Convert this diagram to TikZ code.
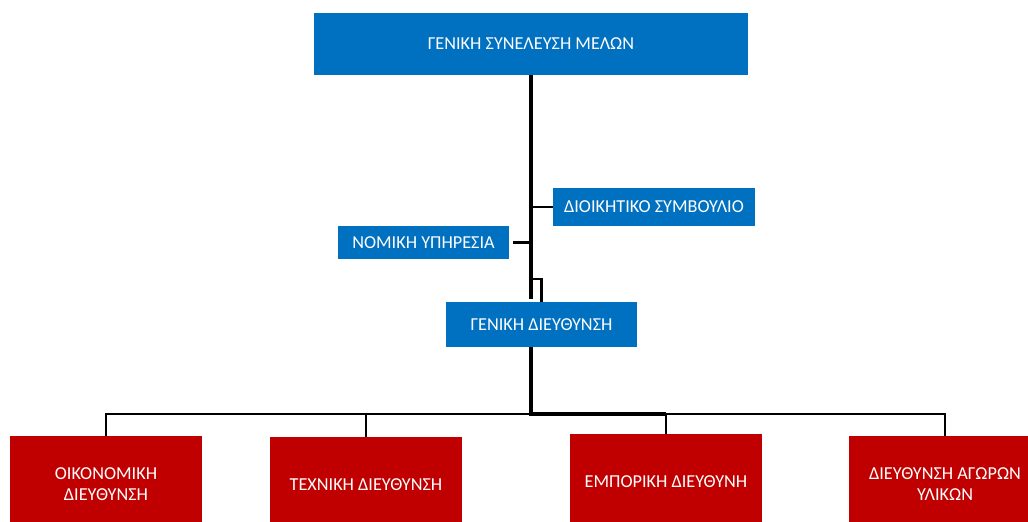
\documentclass[tikz,border=0pt]{standalone}
\usepackage{fontspec}
\setmainfont{Carlito}
\usetikzlibrary{positioning, arrows}
\definecolor{orgblue}{HTML}{0070C0}
\definecolor{orgred}{HTML}{C00000}

\begin{document}
\begin{tikzpicture}[x=1bp, y=-1bp, font=\fontsize{18.3}{21}\selectfont,
	bluebox/.style={fill=orgblue,text=white,inner sep=0pt,align=center},
	redbox/.style={fill=orgred,text=white,inner sep=0pt,align=center,minimum width=192bp,minimum height=96bp},
	trunk/.style={line width=3.2bp},
	branch/.style={line width=2.4bp}]
	\clip (0,0) rectangle (1028,522);
	\fill[white] (0,0) rectangle (1028,522);
	% blue boxes
	\node[bluebox, minimum width=434bp, minimum height=62bp] (gen_syn) at (531,44) {ΓΕΝΙΚΗ ΣΥΝΕΛΕΥΣΗ ΜΕΛΩΝ};
	\node[bluebox, minimum width=202bp, minimum height=38bp] (dioik) at (654,207) {ΔΙΟΙΚΗΤΙΚΟ ΣΥΜΒΟΥΛΙΟ};
	\node[bluebox, minimum width=171bp, minimum height=33bp] (nomiki) at (423.5,242.5) {ΝΟΜΙΚΗ ΥΠΗΡΕΣΙΑ};
	\node[bluebox, minimum width=191bp, minimum height=45bp] (gen_dieu) at (541.5,324.5) {ΓΕΝΙΚΗ ΔΙΕΥΘΥΝΣΗ};
	% red boxes
	\node[redbox] (oikon) at (106,484) {ΟΙΚΟΝΟΜΙΚΗ\\ΔΙΕΥΘΥΝΣΗ};
	\node[redbox] (techn) at (366,485) {ΤΕΧΝΙΚΗ ΔΙΕΥΘΥΝΣΗ};
	\node[redbox] (empor) at (666,482) {ΕΜΠΟΡΙΚΗ ΔΙΕΥΘΥΝΗ};
	\node[redbox] (agoron) at (945,484) {ΔΙΕΥΘΥΝΣΗ ΑΓΩΡΩΝ\\ΥΛΙΚΩΝ};
	\coordinate (stem) at (531,299);
	\coordinate (kink) at (531,279);
	\coordinate (bus) at (531,414);
	% connectors
	\draw[trunk] (gen_syn.south -| stem) -- (stem);
	\draw[branch] (kink) -| (gen_dieu.north);
	\draw[branch] (dioik.west) -- (dioik.west -| stem);
	\draw[branch, shorten <=4bp] (nomiki.east) -- (nomiki.east -| stem);
	\draw[trunk] (gen_dieu.south -| stem) -- (bus) -- (bus -| empor.north);
	\draw[branch] (bus) -| (oikon.north);
	\draw[branch] (bus -| techn.north) -- (techn.north);
	\draw[branch] (bus -| empor.north) -- (empor.north);
	\draw[branch] (bus -| empor.north) -| (agoron.north);
\end{tikzpicture}
\end{document}
